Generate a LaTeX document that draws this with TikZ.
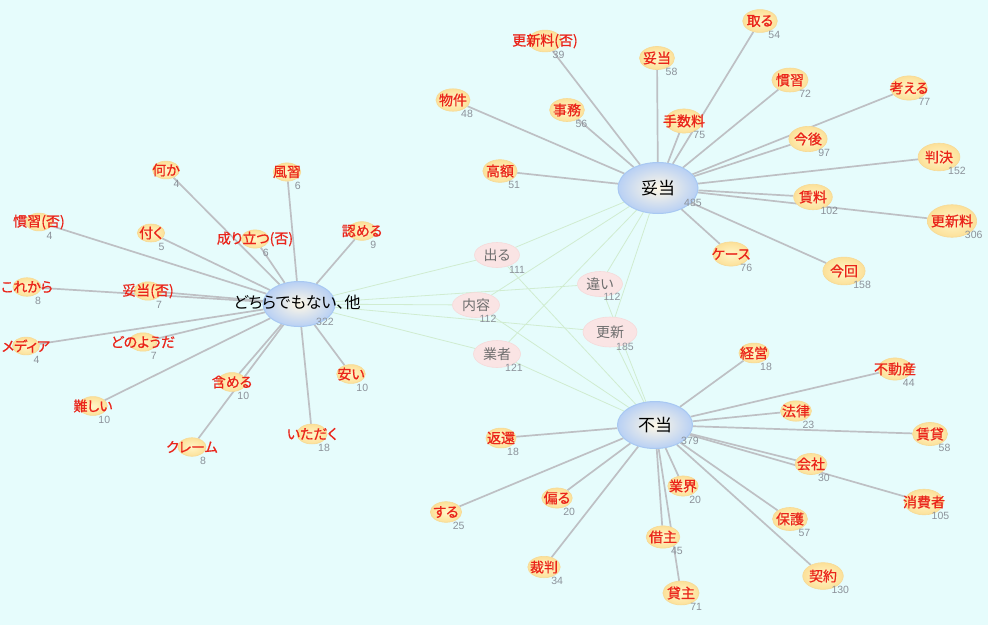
\documentclass[tikz,border=0pt]{standalone}
\usepackage{fontspec}
\setmainfont{Liberation Sans}
\newfontfamily\jpf{Noto Sans CJK JP}[RawFeature={+palt}]
\newfontface\jpfb{Noto Sans CJK JP}[RawFeature={+palt}, FakeBold=0.7]
\usetikzlibrary{shapes.geometric}
\definecolor{bgc}{RGB}{230,252,252}
\definecolor{redtxt}{RGB}{234,36,26}
\definecolor{cntc}{RGB}{140,146,154}
\definecolor{edgec}{RGB}{190,192,196}
\definecolor{sedgec}{RGB}{208,236,208}
\definecolor{yin}{RGB}{255,246,200}
\definecolor{yout}{RGB}{252,224,152}
\definecolor{ybd}{RGB}{247,218,150}
\definecolor{hin}{RGB}{255,248,230}
\definecolor{hout}{RGB}{184,208,244}
\definecolor{hbd}{RGB}{168,200,242}
\definecolor{pinkf}{RGB}{250,228,228}
\definecolor{pinkbd}{RGB}{245,218,218}
\definecolor{stxt}{RGB}{110,110,110}
\pgfdeclarelayer{back}
\pgfdeclarelayer{edges}
\pgfsetlayers{back,edges,main}
\tikzset{
  leafnode/.style={ellipse, inner sep=0pt, shade, inner color=yin, outer color=yout, draw=ybd, line width=0.6pt},
  leaftext/.style={inner sep=0pt, text=redtxt, font=\jpfb\fontsize{14}{16}\selectfont},
  cnt/.style={inner sep=0pt, text=cntc, font=\fontsize{10.5}{12}\selectfont},
  edge/.style={draw=edgec, line width=1.7pt},
  sedge/.style={draw=sedgec, line width=0.8pt},
  hub/.style={ellipse, inner sep=0pt, shade, inner color=hin, outer color=hout, draw=hbd, line width=1pt},
  hubtext/.style={inner sep=0pt, text=black, font=\jpf\fontsize{17}{19}\selectfont},
  share/.style={ellipse, inner sep=0pt, fill=pinkf, draw=pinkbd, line width=0.6pt},
  sharetext/.style={inner sep=0pt, text=stxt, font=\jpf\fontsize{14}{16}\selectfont},
}
\newcommand\mkleaf[6]{%
  \pgfmathsetmacro\lw{24+1.45*sqrt(#5)}%
  \pgfmathsetmacro\lh{0.66*\lw}%
  \pgfmathsetmacro\cxs{0.5*\lw-3}%
  \node[leafnode, minimum width=\lw pt, minimum height=\lh pt] (#1) at (#2,#3) {};
  \node[leaftext] (#1t) at (#1.center) {#4};
  \node[cnt] (#1c) at ([xshift=\cxs pt, yshift=-13.5pt]#1.center) {#5};
  \begin{pgfonlayer}{edges}\draw[edge] (#6) -- (#1);\end{pgfonlayer}
}
\begin{document}
\begin{tikzpicture}[x=1pt, y=-1pt]
\begin{pgfonlayer}{back}
\fill[bgc] (0,0) rectangle (988,625);
\end{pgfonlayer}
\useasboundingbox (0,0) rectangle (988,625);
% hubs
\node[hub, minimum width=80pt, minimum height=51pt] (HT) at (658,188) {};
\node[hubtext] (HTt) at (HT.center) {妥当};
\node[cnt] (HTc) at (693,203) {485};
\node[hub, minimum width=72pt, minimum height=45pt] (HD) at (299,304) {};
\node[hubtext, font=\jpf\fontsize{16}{18}\selectfont] (HDt) at (297,302) {どちらでもない、他};
\node[cnt] (HDc) at (325,322) {322};
\node[hub, minimum width=75pt, minimum height=47pt] (HF) at (655,425) {};
\node[hubtext] (HFt) at (HF.center) {不当};
\node[cnt] (HFc) at (690,441) {379};
% shared nodes
\node[share, minimum width=45pt, minimum height=25pt] (S1) at (497,255) {};
\node[sharetext] (S1t) at (S1.center) {出る};
\node[cnt] (S1c) at (517,270) {111};
\node[share, minimum width=45pt, minimum height=25pt] (S2) at (600,284) {};
\node[sharetext] (S2t) at (S2.center) {違い};
\node[cnt] (S2c) at (612,297) {112};
\node[share, minimum width=47pt, minimum height=25pt] (S3) at (476,305) {};
\node[sharetext] (S3t) at (S3.center) {内容};
\node[cnt] (S3c) at (488,319) {112};
\node[share, minimum width=54pt, minimum height=30pt] (S4) at (610,332) {};
\node[sharetext] (S4t) at (S4.center) {更新};
\node[cnt] (S4c) at (625,347) {185};
\node[share, minimum width=47pt, minimum height=27pt] (S5) at (497,354) {};
\node[sharetext] (S5t) at (S5.center) {業者};
\node[cnt] (S5c) at (514,368) {121};
\begin{pgfonlayer}{edges}
\foreach \s in {S1,S2,S3,S4,S5}{\foreach \h in {HD,HT,HF}{\draw[sedge] (\s) -- (\h);}}
\end{pgfonlayer}
% left group
\mkleaf{L1}{166}{170}{何か}{4}{HD}
\mkleaf{L2}{287}{172}{風習}{6}{HD}
\mkleaf{L3}{39}{222}{慣習(否)}{4}{HD}
\mkleaf{L4}{151}{233}{付く}{5}{HD}
\mkleaf{L5}{255}{239}{成り立つ(否)}{6}{HD}
\mkleaf{L6}{362}{231}{認める}{9}{HD}
\mkleaf{L7}{27}{287}{これから}{8}{HD}
\mkleaf{L8}{148}{291}{妥当(否)}{7}{HD}
\mkleaf{L9}{26}{346}{メディア}{4}{HD}
\mkleaf{L10}{143}{342}{どのようだ}{7}{HD}
\mkleaf{L11}{93}{406}{難しい}{10}{HD}
\mkleaf{L12}{232}{382}{含める}{10}{HD}
\mkleaf{L13}{192}{447}{クレーム}{8}{HD}
\mkleaf{L14}{312}{434}{いただく}{18}{HD}
\mkleaf{L15}{351}{374}{安い}{10}{HD}
% top group
\mkleaf{T1}{545}{41}{更新料(否)}{39}{HT}
\mkleaf{T2}{657}{58}{妥当}{58}{HT}
\mkleaf{T3}{760}{21}{取る}{54}{HT}
\mkleaf{T4}{453}{100}{物件}{48}{HT}
\mkleaf{T5}{567}{110}{事務}{56}{HT}
\mkleaf{T6}{684}{121}{手数料}{75}{HT}
\mkleaf{T7}{790}{80}{慣習}{72}{HT}
\mkleaf{T8}{909}{88}{考える}{77}{HT}
\mkleaf{T9}{808}{139}{今後}{97}{HT}
\mkleaf{T10}{939}{157}{判決}{152}{HT}
\mkleaf{T11}{500}{171}{高額}{51}{HT}
\mkleaf{T12}{813}{197}{賃料}{102}{HT}
\mkleaf{T13}{952}{221}{更新料}{306}{HT}
\mkleaf{T14}{731}{254}{ケース}{76}{HT}
\mkleaf{T15}{844}{271}{今回}{158}{HT}
% bottom group
\mkleaf{F1}{754}{353}{経営}{18}{HF}
\mkleaf{F2}{895}{369}{不動産}{44}{HF}
\mkleaf{F3}{796}{411}{法律}{23}{HF}
\mkleaf{F4}{930}{434}{賃貸}{58}{HF}
\mkleaf{F5}{811}{464}{会社}{30}{HF}
\mkleaf{F6}{924}{502}{消費者}{105}{HF}
\mkleaf{F7}{790}{519}{保護}{57}{HF}
\mkleaf{F8}{823}{576}{契約}{130}{HF}
\mkleaf{F9}{501}{438}{返還}{18}{HF}
\mkleaf{F10}{446}{512}{する}{25}{HF}
\mkleaf{F11}{557}{498}{偏る}{20}{HF}
\mkleaf{F12}{544}{567}{裁判}{34}{HF}
\mkleaf{F13}{683}{486}{業界}{20}{HF}
\mkleaf{F14}{663}{537}{借主}{45}{HF}
\mkleaf{F15}{681}{593}{貸主}{71}{HF}
\end{tikzpicture}
\end{document}
